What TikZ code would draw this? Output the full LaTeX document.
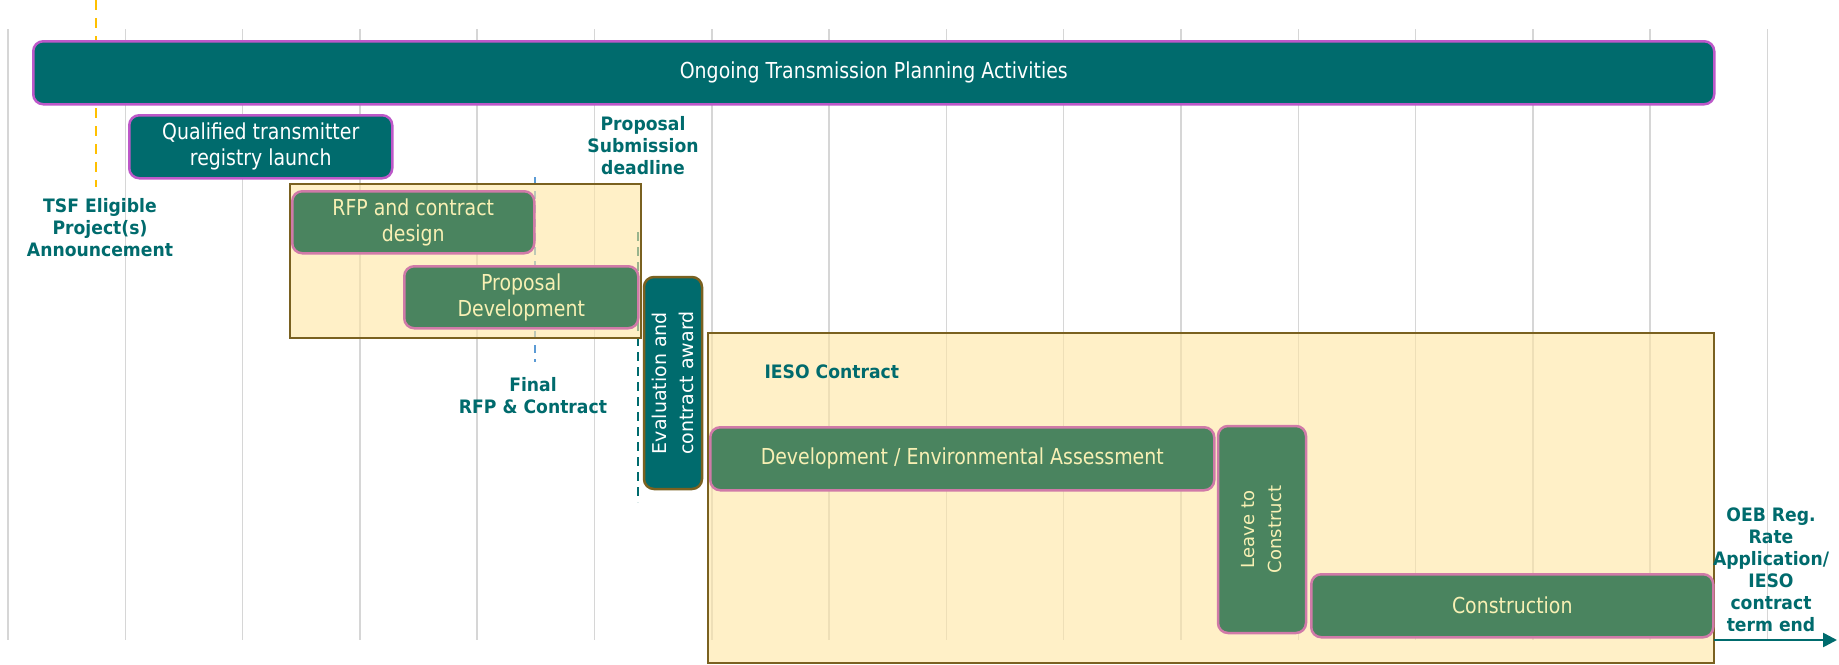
\documentclass[tikz,border=0pt]{standalone}
\usepackage{fontspec}
\setmainfont{DejaVu Sans}[FakeStretch=0.86]
\newfontfamily\widefont{DejaVu Sans}
\newfontfamily\labelfamily{DejaVu Sans}[FakeStretch=0.93]
\usetikzlibrary{arrows.meta}

\definecolor{tealbar}{HTML}{006B6D}
\definecolor{purpleline}{HTML}{BD58C9}
\definecolor{taskgreen}{HTML}{4A845F}
\definecolor{pinkline}{HTML}{D07AA8}
\definecolor{creamtext}{HTML}{F8F0B4}
\definecolor{phaseyellow}{RGB}{255,230,163}
\definecolor{brownline}{HTML}{7A6120}
\definecolor{gridgray}{HTML}{D6D6D6}
\definecolor{tsforange}{HTML}{FFC000}
\definecolor{rfpblue}{HTML}{5B9BD5}

\newcommand\barfont{\fontsize{22}{26}\selectfont}
\newcommand\turnfont{\widefont\fontsize{19}{27}\selectfont}
\newcommand\labelfont{\labelfamily\fontsize{18.5}{22}\bfseries\selectfont}

\begin{document}
\begin{tikzpicture}[x=1pt,y=-1pt,
	bar/.style={draw=purpleline,fill=tealbar,line width=2.5pt,rounded corners=10pt,
		text=white,align=center,anchor=north west,inner sep=0pt,font=\barfont},
	task/.style={bar,draw=pinkline,fill=taskgreen,text=creamtext},
	phase/.style={draw=brownline,line width=2.5pt,fill=phaseyellow,fill opacity=0.6},
	milestone/.style={text=tealbar,font=\labelfont,align=center},
	gridline/.style={draw=gridgray,line width=1.5pt}]

	\fill[white] (0,0) rectangle (1839,664);
	\useasboundingbox (0,0) rectangle (1839,664);

	% time grid
	\foreach \k in {0,...,15}
		\draw[gridline] (8+117.3*\k,29) -- (8+117.3*\k,640);

	% milestone lines
	\coordinate (tsftop) at (96,0);
	\coordinate (tsfbot) at (96,187);
	\coordinate (rfptop) at (535,177);
	\coordinate (rfpbot) at (535,362);
	\coordinate (subtop) at (638,232);
	\coordinate (subbot) at (638,502);
	\draw[tsforange,line width=2pt,dash pattern=on 10pt off 8pt] (tsftop) -- (tsfbot);
	\draw[rfpblue,line width=2pt,dash pattern=on 8pt off 6pt] (rfptop) -- (rfpbot);
	\draw[tealbar,line width=2.5pt,dash pattern=on 9pt off 6pt] (subtop) -- (subbot);

	% phases
	\draw[phase] (290,184) rectangle (641,338);
	\draw[phase] (708,333) rectangle (1714,663);

	% bars
	\node[bar,minimum width=1681pt,minimum height=63pt] (ongoing) at (32,40)
		{Ongoing Transmission Planning Activities};
	\node[bar,minimum width=263pt,minimum height=63pt] (registry) at (128,114)
		{Qualified transmitter\\registry launch};
	\node[task,minimum width=242pt,minimum height=62pt] (rfpdesign) at (291,190)
		{RFP and contract\\design};
	\node[task,minimum width=234pt,minimum height=62pt] (proposal) at (403,265)
		{Proposal\\Development};
	\node[bar,draw=brownline,rotate=90,anchor=center,minimum width=212pt,minimum height=58pt,
		font=\turnfont] (evaluation) at (673,383) {Evaluation and\\contract award};
	\node[task,minimum width=504pt,minimum height=63pt] (devenv) at (709,426)
		{Development / Environmental Assessment};
	\node[task,rotate=90,anchor=center,minimum width=207pt,minimum height=88pt,
		font=\widefont\fontsize{18}{27}\selectfont] (leave) at (1262,529.5) {Leave to\\Construct};
	\node[task,minimum width=402pt,minimum height=63pt] (construction) at (1310,573)
		{Construction};

	% labels
	\node[milestone] (tsf) at (100,228) {TSF Eligible\\Project(s)\\Announcement};
	\node[milestone] (deadline) at (643,146) {Proposal\\Submission\\deadline};
	\node[milestone] (final) at (533,396) {Final\\RFP \& Contract};
	\node[milestone,anchor=west] (ieso) at (761,372) {IESO Contract};
	\node[milestone] (oeb) at (1771,570)
		{OEB Reg.\\Rate\\Application/\\IESO\\contract\\term end};

	% end of term
	\coordinate (termstart) at (1714,640);
	\coordinate (termend) at (1837,640);
	\draw[tealbar,line width=2.5pt,-{Triangle[length=14pt,width=14pt]}] (termstart) -- (termend);

\end{tikzpicture}
\end{document}
